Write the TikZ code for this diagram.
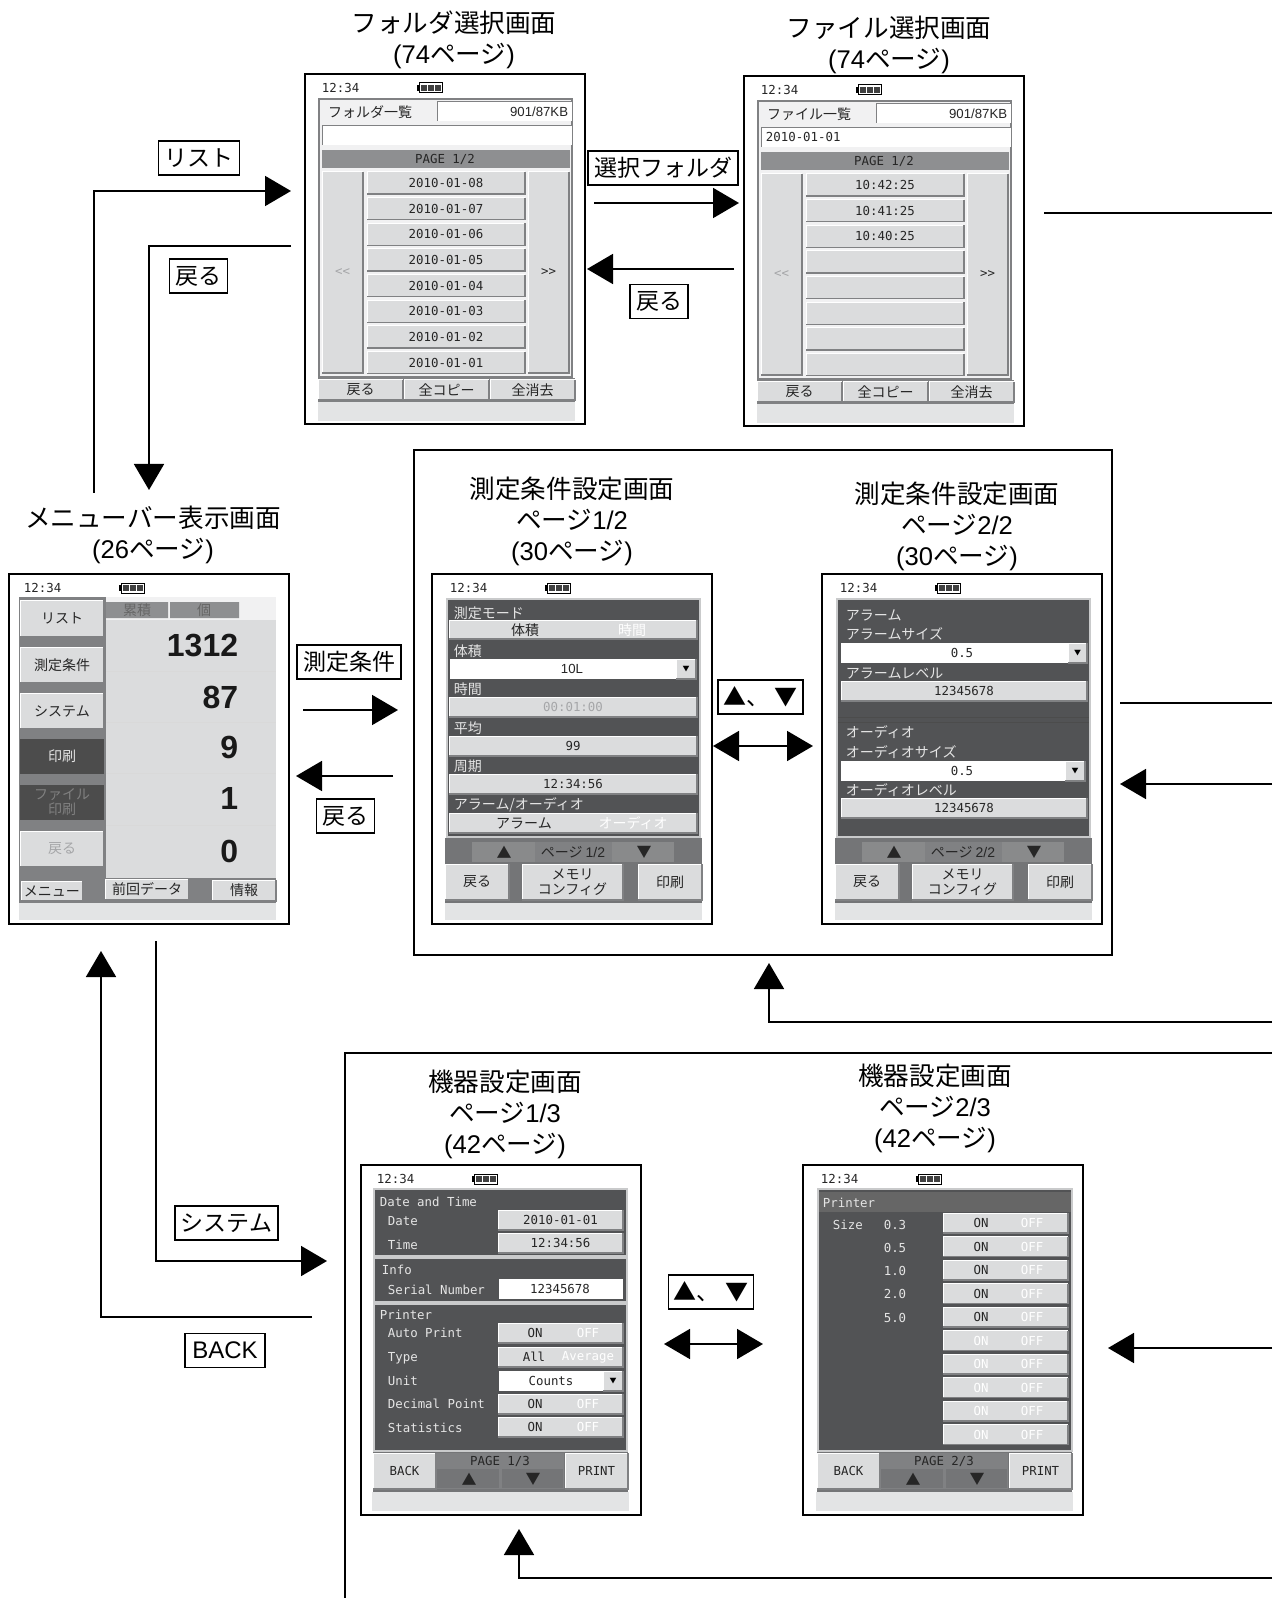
\documentclass[tikz,border=0pt]{standalone}
\usepackage{fontspec}
\setmainfont{Noto Sans CJK JP}
\newfontfamily\latfont{Liberation Sans}
\newfontfamily\monofont{DejaVu Sans Mono}
\usetikzlibrary{arrows.meta,positioning}

\definecolor{scrdark}{HTML}{525355}
\definecolor{scrmid}{HTML}{747577}
\definecolor{scrface}{HTML}{DBDCDD}
\definecolor{scredge}{HTML}{808183}
\definecolor{scrbar}{HTML}{E3E4E5}
\definecolor{scrline}{HTML}{C9CACB}
\definecolor{scrhead}{HTML}{8E8F91}
\definecolor{scrgray}{HTML}{A5A6A8}

\newcounter{txtno}
% text on a screen
\newcommand{\scrtxt}[4][]{\stepcounter{txtno}%
  \node[scrlbl,#1] (t\arabic{txtno}) at ({#2},{#3}) {#4};}
% plain filled area
\newcommand{\scrrect}[5][scrface]{\fill[#1] (#2,#3) rectangle (#4,#5);}
% raised button with text in its middle
\newcommand{\scrbtn}[6][]{%
  \fill[scrface] (#2,#3) rectangle (#4,#5);
  \draw[white,line width=0.5pt] (#2,#5) -- (#2,#3) -- (#4,#3);
  \draw[scredge,line width=0.7pt] (#2,#5) -- (#4,#5) -- (#4,#3);
  \scrtxt[#1]{(#2+#4)/2}{(#3+#5)/2}{#6}}
% clock and battery
\newcommand{\scrtop}[1]{%
  \scrtxt[anchor=west]{#1}{14}{12:34}
  \draw[line width=0.5pt] (#1+98,9) rectangle (#1+121,19);
  \fill[black!75] (#1+100,11) rectangle (#1+105.5,17);
  \fill[black!75] (#1+107,11) rectangle (#1+112.5,17);
  \fill[black!75] (#1+114,11) rectangle (#1+119.5,17);
  \fill (#1+96,11) rectangle (#1+98,17);}
% folder and file lists
\newcommand{\listscreen}[3]{%
  \scrrect[scredge]{13}{24}{268}{304}
  \scrrect[scrbar!50!white]{15}{26}{266}{302}
  \scrtxt[jp]{65}{38}{#1}
  \scrrect[white]{132}{28}{267}{47}
  \draw[scredge,line width=0.5pt] (132,47) -- (132,28) -- (267,28);
  \scrtxt[anchor=east,font=\latfont\fontsize{6.6}{8}\selectfont]{264}{38}{901/87KB}
  \scrrect[white]{17}{52}{267}{71}
  \draw[scredge,line width=0.5pt] (17,71) -- (17,52) -- (267,52);
  \scrtxt[anchor=west]{21}{61}{#2}
  \scrrect[scrhead]{17}{76}{265}{94}
  \scrtxt{140}{85}{PAGE 1/2}
  \scrbtn[text=scrgray]{17}{98}{58}{299}{<<}
  \scrbtn{223}{98}{264}{299}{>>}
  \foreach \d [count=\i from 0] in {#3} {
    \pgfmathsetmacro{\yt}{98+25.65*\i}
    \pgfmathsetmacro{\yb}{\yt+22}
    \scrbtn{62}{\yt}{220}{\yb}{\d}
  }
  \scrrect[scredge]{13}{304}{270}{328}
  \scrbtn[jp]{13}{306}{98}{326}{戻る}
  \scrbtn[jp]{99}{306}{184}{326}{全コピー}
  \scrbtn[jp]{185}{306}{270}{326}{全消去}
  \scrrect[scrbar]{13}{328}{270}{347}}
% page bar and buttons of the condition screens
\newcommand{\condfoot}[1]{%
  \scrrect[scrmid]{13}{264}{270}{329}
  \scrrect[scredge]{40}{268}{242}{288}
  \scrrect[scrmid!85!white]{40}{268}{103}{288}
  \scrrect[scrmid!85!white]{180}{268}{242}{288}
  \scrtxt[tri]{72}{278}{▲}
  \scrtxt[tri]{212}{278}{▼}
  \scrtxt[jp]{141}{278}{ページ {\latfont #1}}
  \scrbtn[jp]{13}{290}{77}{326}{戻る}
  \scrbtn[jp,align=center]{90}{290}{191}{326}{メモリ\\コンフィグ}
  \scrbtn[jp]{206}{290}{270}{326}{印刷}
  \scrrect[scrbar]{13}{329}{270}{346}}
% page bar and buttons of the system screens
\newcommand{\sysfoot}[1]{%
  \scrrect[scrmid]{12}{287}{267}{327}
  \scrrect[scredge]{76}{288}{203}{324}
  \scrtxt{139}{296}{#1}
  \scrrect[scrmid]{76}{304}{138}{323}
  \scrrect[scrmid]{141}{304}{202}{323}
  \scrtxt[tri]{108}{314}{▲}
  \scrtxt[tri]{172}{314}{▼}
  \scrbtn{12}{288}{75}{324}{BACK}
  \scrbtn{204}{288}{267}{324}{PRINT}
  \scrrect[scrbar]{11}{327}{268}{346}}
% ON / OFF row
\newcommand{\onoff}[7][]{%
  \scrbtn{#2}{#3}{#4}{#5}{}
  \scrtxt[#1]{#6}{(#3+#5)/2}{ON}
  \scrtxt[offtxt]{#7}{(#3+#5)/2}{OFF}}
\newcommand{\pg}[1]{{\latfont (#1}ページ{\latfont )}}

\begin{document}
\begin{tikzpicture}[
    x = 0.5pt, y = -0.5pt, % one unit is one pixel of the picture
    > = {Triangle[length=13pt,width=15pt]}, % arrow head style
    semithick,
    line width = 0.9pt,
    node distance = 4pt
    ]

    \tikzset{
    scrframe/.style = {draw = black, line width = 0.55pt, fill = white, anchor = north west,
      minimum width = 140pt, minimum height = 175pt, inner sep = 0pt, outer sep = 0pt},
    scrlbl/.style = {inner sep = 0pt, text = black!85, font = \monofont\fontsize{6.2}{7.5}\selectfont},
    jp/.style = {font = \fontsize{7}{7.6}\selectfont},
    tri/.style = {font = \fontsize{7.5}{8}\selectfont},
    droptxt/.style = {font = \fontsize{3.5}{4}\selectfont, text = black},
    lighttxt/.style = {text = black!10},
    offtxt/.style = {text = white},
    bignum/.style = {anchor = east, text = black!90, font = \latfont\bfseries\fontsize{16}{18}\selectfont},
    pagetitle/.style = {align = center, inner sep = 0pt, font = \fontsize{12.8}{15.6}\selectfont},
    keybox/.style = {draw = black, line width = 0.8pt, fill = white, inner xsep = 3pt, inner ysep = 0pt,
      minimum height = 17pt, font = \fontsize{11.5}{13}\selectfont}
    }

    \useasboundingbox (0,0) rectangle (1272,1598);

    % big frames
    \node[draw, line width = 0.9pt, anchor = north west, minimum width = 349pt, minimum height = 252.5pt,
      inner sep = 0pt, outer sep = 0pt] (condbox) at (414,450) {};
    \coordinate (sysboxA) at (345,1598);
    \coordinate (sysboxB) at (1272,1053);
    \draw (sysboxA) |- (sysboxB);

    % screens
    \node[scrframe] (folder) at (305,74) {};
    \node[scrframe] (file) at (744,76) {};
    \node[scrframe] (menu) at (9,574) {};
    \node[scrframe] (cond1) at (432,574) {};
    \node[scrframe] (cond2) at (822,574) {};
    \node[scrframe] (sys1) at (361,1165) {};
    \node[scrframe] (sys2) at (803,1165) {};

    \node[pagetitle, above = 2pt of folder, xshift = 4.5pt] (tfolder) {フォルダ選択画面\\\pg{74}};
    \node[pagetitle, above = 0.5pt of file, xshift = 2.5pt] (tfile) {ファイル選択画面\\\pg{74}};
    \node[pagetitle, above = 4.5pt of menu, xshift = 2pt] (tmenu) {メニューバー表示画面\\\pg{26}};
    \node[pagetitle, above = 3.5pt of cond1] (tcond1) {測定条件設定画面\\ページ{\latfont 1/2}\\\pg{30}};
    \node[pagetitle, above = 1pt of cond2, xshift = -2.5pt] (tcond2) {測定条件設定画面\\ページ{\latfont 2/2}\\\pg{30}};
    \node[pagetitle, above = 2.5pt of sys1, xshift = 2pt] (tsys1) {機器設定画面\\ページ{\latfont 1/3}\\\pg{42}};
    \node[pagetitle, above = 5.5pt of sys2, xshift = -4pt] (tsys2) {機器設定画面\\ページ{\latfont 2/3}\\\pg{42}};

    % folder list
    \begin{scope}[shift = {(folder.north west)}]
      \scrtop{16}
      \listscreen{フォルダ一覧}{}{2010-01-08,2010-01-07,2010-01-06,2010-01-05,2010-01-04,2010-01-03,2010-01-02,2010-01-01}
    \end{scope}

    % file list
    \begin{scope}[shift = {(file.north west)}]
      \scrtop{16}
      \listscreen{ファイル一覧}{2010-01-01}{10:42:25,10:41:25,10:40:25,{},{},{},{},{}}
    \end{scope}

    % menu bar
    \begin{scope}[shift = {(menu.north west)}]
      \scrtop{14}
      \scrrect[scredge]{10}{23}{267}{329}
      \scrrect[scrface]{97}{46}{267}{304}
      \scrrect[scrbar!50!white]{97}{23}{267}{46}
      \foreach \y in {97,148,199,251} {
        \draw[white!85!black,line width=0.5pt] (97,\y) -- (267,\y);
      }
      \fill[scrhead] (97,28) rectangle (159,44) (161,28) rectangle (230,44);
      \scrtxt[jp,text=black!60]{128}{36}{累積}
      \scrtxt[jp,text=black!60]{195}{36}{個}
      \scrbtn[jp]{11}{26}{95}{63}{リスト}
      \scrbtn[jp]{11}{73}{95}{109}{測定条件}
      \scrbtn[jp]{11}{119}{95}{155}{システム}
      \scrrect[black!70]{11}{165}{95}{200}
      \scrtxt[jp,lighttxt]{53}{182}{印刷}
      \scrrect[black!70]{11}{211}{95}{246}
      \scrtxt[jp,text=black!50,align=center]{53}{228}{ファイル\\印刷}
      \scrbtn[jp,text=scrgray]{11}{257}{95}{293}{戻る}
      \scrtxt[bignum]{230}{72}{1312}
      \scrtxt[bignum]{230}{123}{87}
      \scrtxt[bignum]{230}{173}{9}
      \scrtxt[bignum]{230}{224}{1}
      \scrtxt[bignum]{230}{277}{0}
      \scrbtn[jp]{12}{307}{74}{327}{メニュー}
      \scrbtn[jp]{96}{305}{180}{326}{前回データ}
      \scrbtn[jp]{203}{306}{267}{327}{情報}
      \scrrect[scrbar]{10}{329}{267}{346}
    \end{scope}

    % condition page 1
    \begin{scope}[shift = {(cond1.north west)}]
      \scrtop{17}
      \scrrect[scrline]{14}{24}{269}{264}
      \scrrect[scrdark]{16}{26}{267}{262}
      \scrtxt[jp,lighttxt,anchor=west]{21}{39}{測定モード}
      \scrbtn{17}{46}{265}{65}{}
      \scrtxt[jp]{93}{56}{体積}
      \scrtxt[jp,offtxt]{200}{56}{時間}
      \scrtxt[jp,lighttxt,anchor=west]{21}{77}{体積}
      \scrrect[white]{18}{85}{244}{105}
      \scrtxt[font=\latfont\fontsize{6.6}{8}\selectfont]{140}{95}{10L}
      \scrbtn[droptxt]{244}{85}{264}{105}{▼}
      \scrtxt[jp,lighttxt,anchor=west]{21}{115}{時間}
      \scrbtn[text=scrgray]{17}{123}{265}{143}{00:01:00}
      \scrtxt[jp,lighttxt,anchor=west]{21}{154}{平均}
      \scrbtn{17}{162}{265}{182}{99}
      \scrtxt[jp,lighttxt,anchor=west]{21}{192}{周期}
      \scrbtn{17}{200}{265}{220}{12:34:56}
      \scrtxt[jp,lighttxt,anchor=west]{21}{231}{アラーム/オーディオ}
      \scrbtn{17}{239}{265}{259}{}
      \scrtxt[jp]{92}{249}{アラーム}
      \scrtxt[jp,offtxt]{201}{249}{オーディオ}
      \condfoot{1/2}
    \end{scope}

    % condition page 2
    \begin{scope}[shift = {(cond2.north west)}]
      \scrtop{17}
      \scrrect[scrline]{14}{24}{269}{264}
      \scrrect[scrdark]{16}{26}{267}{262}
      \draw[black!70,line width=0.5pt] (16,143) -- (267,143) (16,148) -- (267,148);
      \scrtxt[jp,lighttxt,anchor=west]{23}{41}{アラーム}
      \scrtxt[jp,lighttxt,anchor=west]{23}{60}{アラームサイズ}
      \scrrect[white]{19}{69}{246}{89}
      \scrtxt{140}{79}{0.5}
      \scrbtn[droptxt]{246}{69}{265}{89}{▼}
      \scrtxt[jp,lighttxt,anchor=west]{23}{99}{アラームレベル}
      \scrbtn{19}{107}{265}{127}{12345678}
      \scrtxt[jp,lighttxt,anchor=west]{23}{158}{オーディオ}
      \scrtxt[jp,lighttxt,anchor=west]{23}{178}{オーディオサイズ}
      \scrrect[white]{19}{187}{243}{207}
      \scrtxt{140}{197}{0.5}
      \scrbtn[droptxt]{243}{187}{263}{207}{▼}
      \scrtxt[jp,lighttxt,anchor=west]{23}{216}{オーディオレベル}
      \scrbtn{19}{224}{265}{244}{12345678}
      \condfoot{2/2}
    \end{scope}

    % system page 1
    \begin{scope}[shift = {(sys1.north west)}]
      \scrtop{15}
      \scrrect[scrline]{12}{23}{267}{287}
      \scrrect[scrdark]{14}{25}{265}{90}
      \scrrect[scrdark]{14}{94}{265}{136}
      \scrrect[scrdark]{14}{140}{265}{285}
      \scrtxt[lighttxt,anchor=west]{18}{37}{Date and Time}
      \scrtxt[lighttxt,anchor=west]{26}{56}{Date}
      \scrbtn{137}{45}{262}{65}{2010-01-01}
      \scrtxt[lighttxt,anchor=west]{26}{80}{Time}
      \scrbtn{137}{68}{262}{88}{12:34:56}
      \scrtxt[lighttxt,anchor=west]{20}{105}{Info}
      \scrtxt[lighttxt,anchor=west]{26}{125}{Serial Number}
      \scrrect[white]{138}{114}{262}{134}
      \scrtxt{199}{124}{12345678}
      \scrtxt[lighttxt,anchor=west]{18}{150}{Printer}
      \scrtxt[lighttxt,anchor=west]{26}{168}{Auto Print}
      \onoff{137}{158}{262}{178}{174}{227}
      \scrtxt[lighttxt,anchor=west]{26}{193}{Type}
      \scrbtn{137}{182}{262}{202}{}
      \scrtxt{173}{192}{All}
      \scrtxt[offtxt]{227}{192}{Average}
      \scrtxt[lighttxt,anchor=west]{26}{216}{Unit}
      \scrrect[white]{138}{206}{242}{226}
      \scrtxt{190}{216}{Counts}
      \scrbtn[droptxt]{242}{206}{262}{226}{▼}
      \scrtxt[lighttxt,anchor=west]{26}{239}{Decimal Point}
      \onoff{137}{229}{262}{249}{174}{227}
      \scrtxt[lighttxt,anchor=west]{26}{263}{Statistics}
      \onoff{137}{252}{262}{272}{174}{227}
      \sysfoot{PAGE 1/3}
    \end{scope}

    % system page 2
    \begin{scope}[shift = {(sys2.north west)}]
      \scrtop{17}
      \scrrect[scrline]{14}{23}{270}{287}
      \scrrect[scrdark]{16}{25}{268}{285}
      \scrrect[black!60]{16}{27}{268}{47}
      \scrtxt[lighttxt,anchor=west]{19}{38}{Printer}
      \scrtxt[lighttxt,anchor=west]{29}{60}{Size}
      \foreach \v/\y in {0.3/60,0.5/83,1.0/106,2.0/129,5.0/153} {
        \scrtxt[lighttxt]{92}{\y}{\v}
      }
      \foreach \i in {0,...,4} {
        \pgfmathsetmacro{\yt}{48+23.5*\i}
        \pgfmathsetmacro{\yb}{\yt+20}
        \onoff{140}{\yt}{265}{\yb}{178}{229}
      }
      \foreach \i in {5,...,9} {
        \pgfmathsetmacro{\yt}{48+23.5*\i}
        \pgfmathsetmacro{\yb}{\yt+20}
        \onoff[offtxt]{140}{\yt}{265}{\yb}{178}{229}
      }
      \begin{scope}[shift = {(2,0)}]
        \sysfoot{PAGE 2/3}
      \end{scope}
    \end{scope}

    % key labels
    \node[keybox] (klist) at (199,158) {リスト};
    \node[keybox] (kback1) at (198.5,276) {戻る};
    \node[keybox] (kfolder) at (663,168) {選択フォルダ};
    \node[keybox] (kback2) at (659,301.5) {戻る};
    \node[keybox] (kcond) at (349,662) {測定条件};
    \node[keybox] (kback3) at (345.5,816) {戻る};
    \node[keybox, minimum width = 42.5pt, inner xsep = 0pt] (kpage1) at (760.5,697) {▲、\hspace{3pt}▼};
    \node[keybox] (ksys) at (226.5,1223) {システム};
    \node[keybox, font = \latfont\fontsize{12}{14}\selectfont, minimum width = 40pt] (kback4) at (225,1350.5) {BACK};
    \node[keybox, minimum width = 42.5pt, inner xsep = 0pt] (kpage2) at (711,1292) {▲、\hspace{3pt}▼};

    % connector ends
    \coordinate (menuUp) at (94,493);
    \coordinate (folderIn) at (291,191);
    \coordinate (folderOut) at (291,246);
    \coordinate (menuIn) at (149,490);
    \coordinate (folderNext) at (594,203);
    \coordinate (fileIn) at (739,203);
    \coordinate (fileBack) at (734,269);
    \coordinate (folderBack) at (587,269);
    \coordinate (fileOut) at (1044,213);
    \coordinate (fileEdge) at (1272,213);
    \coordinate (menuNext) at (303,710);
    \coordinate (condIn) at (398,710);
    \coordinate (condBack) at (393,776);
    \coordinate (menuBack) at (296,776);
    \coordinate (pageA) at (713,746);
    \coordinate (pageB) at (813,746);
    \coordinate (condOut) at (1120,703);
    \coordinate (condEdgeA) at (1272,703);
    \coordinate (condEdgeB) at (1272,784);
    \coordinate (condRet) at (1120,784);
    \coordinate (condEdgeC) at (1272,1022);
    \coordinate (condUp) at (769,963);
    \coordinate (menuDown) at (156,941);
    \coordinate (sysIn) at (327,1261);
    \coordinate (sysOut) at (312,1317);
    \coordinate (menuRet) at (101,951);
    \coordinate (pageC) at (664,1344);
    \coordinate (pageD) at (763,1344);
    \coordinate (sysEdgeA) at (1272,1348);
    \coordinate (sysRet) at (1108,1348);
    \coordinate (sysEdgeB) at (1272,1578);
    \coordinate (sysUp) at (519,1529);

    \draw[->] (menuUp) |- (folderIn);
    \draw[->] (folderOut) -| (menuIn);
    \draw[->] (folderNext) -- (fileIn);
    \draw[->] (fileBack) -- (folderBack);
    \draw (fileOut) -- (fileEdge);
    \draw[->] (menuNext) -- (condIn);
    \draw[->] (condBack) -- (menuBack);
    \draw[<->] (pageA) -- (pageB);
    \draw (condOut) -- (condEdgeA);
    \draw[->] (condEdgeB) -- (condRet);
    \draw[->] (condEdgeC) -| (condUp);
    \draw[->] (menuDown) |- (sysIn);
    \draw[->] (sysOut) -| (menuRet);
    \draw[<->] (pageC) -- (pageD);
    \draw[->] (sysEdgeA) -- (sysRet);
    \draw[->] (sysEdgeB) -| (sysUp);
\end{tikzpicture}
\end{document}
